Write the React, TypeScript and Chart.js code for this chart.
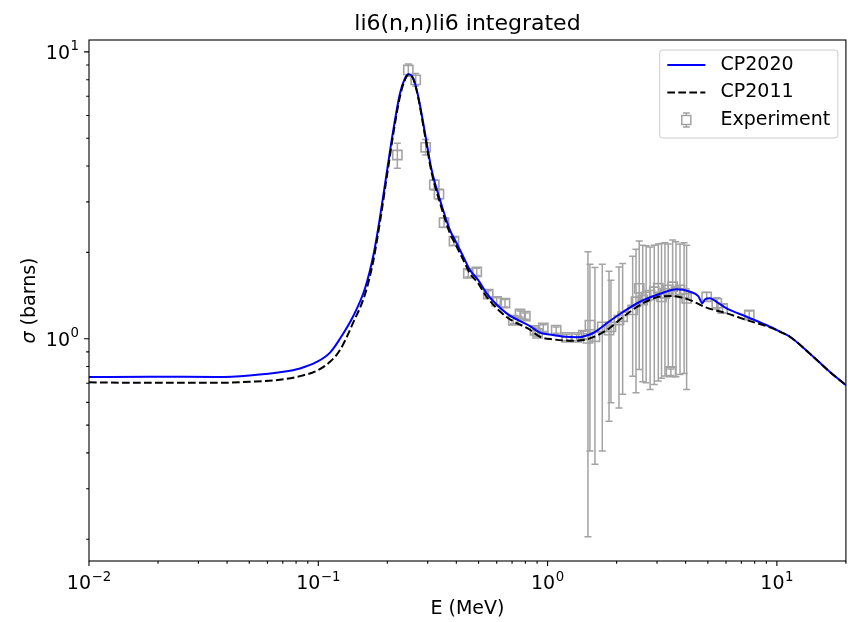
import React, { useEffect, useRef } from "react";
import { Chart, registerables } from "chart.js";

Chart.register(...registerables);

// ---------------- data ----------------
const cp2020E = [
  0.01, 0.0185, 0.0361, 0.0502, 0.0704, 0.0832, 0.0984, 0.1125, 0.1243, 0.1421,
  0.1599, 0.1738, 0.186, 0.1987, 0.2124, 0.2272, 0.2389, 0.247, 0.2596, 0.273,
  0.292, 0.312, 0.3393, 0.3752, 0.3946, 0.4291, 0.4586, 0.4985, 0.5425, 0.663,
  0.838, 0.926, 1.059, 1.2, 1.34, 1.53, 1.65, 1.81, 2.14, 2.53,
  2.99, 3.66, 4.18, 4.54, 4.73, 4.85, 5.1, 5.5, 6.04, 7.38,
  9.33, 10.4, 11.4, 13.9, 17.0, 20.0,
];
const cp2020Sigma = [
  0.736, 0.737, 0.736, 0.745, 0.767, 0.788, 0.83, 0.895, 1.0, 1.2,
  1.5, 1.95, 2.665, 3.775, 5.345, 7.18, 8.09, 8.36, 8.09, 6.98,
  5.21, 3.88, 3.05, 2.39, 2.21, 1.932, 1.736, 1.602, 1.44, 1.226,
  1.107, 1.05, 1.03, 1.016, 1.012, 1.035, 1.07, 1.132, 1.242, 1.346,
  1.42, 1.487, 1.459, 1.409, 1.33, 1.37, 1.383, 1.34, 1.276, 1.193,
  1.101, 1.055, 1.016, 0.889, 0.767, 0.689,
];

const cp2011E = [
  0.01, 0.0185, 0.0361, 0.0502, 0.0704, 0.0832, 0.0984, 0.1125, 0.1243, 0.1421,
  0.1599, 0.1738, 0.186, 0.1987, 0.2124, 0.2272, 0.2389, 0.247, 0.2596, 0.273,
  0.292, 0.312, 0.3393, 0.3752, 0.3946, 0.4291, 0.4586, 0.4985, 0.5425, 0.663,
  0.838, 0.926, 1.059, 1.295, 1.53, 1.81, 2.14, 2.53, 2.99, 3.5,
  4.18, 4.9, 6.04, 7.38, 9.33, 10.4, 11.4, 13.9, 17.0, 20.0,
];
const cp2011Sigma = [
  0.705, 0.702, 0.702, 0.708, 0.722, 0.741, 0.773, 0.831, 0.913, 1.14,
  1.43, 1.87, 2.57, 3.64, 5.18, 7.0, 8.0, 8.33, 8.05, 6.9,
  5.1, 3.8, 2.98, 2.33, 2.15, 1.88, 1.69, 1.56, 1.4, 1.19,
  1.075, 1.016, 0.995, 0.984, 1.003, 1.072, 1.193, 1.311, 1.394, 1.409,
  1.364, 1.287, 1.226, 1.162, 1.096, 1.055, 1.016, 0.889, 0.767, 0.689,
];

const expE = [
  0.2212, 0.247, 0.266, 0.294, 0.3206, 0.336, 0.3535, 0.3907, 0.451, 0.491,
  0.551, 0.6, 0.652, 0.7087, 0.758, 0.8, 0.881, 0.905, 0.958, 1.09,
  1.211, 1.34, 1.431, 1.5, 1.53, 1.609, 1.732, 1.853, 1.89, 2.048,
  2.125, 2.35, 2.43, 2.51, 2.6, 2.69, 2.8, 2.92, 3.04, 3.14,
  3.25, 3.36, 3.45, 3.51, 3.63, 3.78, 3.94, 4.04, 4.94, 5.47,
  5.8, 7.58,
];
const expSigma = [
  4.37, 8.65, 7.99, 4.65, 3.44, 3.19, 2.54, 2.19, 1.69, 1.71,
  1.43, 1.35, 1.33, 1.16, 1.22, 1.2, 1.07, 1.044, 1.09, 1.072,
  1.011, 1.011, 1.03, 1.003, 1.116, 1.016, 1.1, 1.072, 1.1, 1.162,
  1.193, 1.26, 1.346, 1.499, 1.365, 1.4, 1.42, 1.459, 1.5, 1.4,
  1.44, 1.48, 0.765, 1.518, 1.459, 1.48, 1.44, 1.383, 1.4, 1.33,
  1.276, 1.21,
];
const expLow = [
  3.93, 8.22, 7.6, 4.37, 3.3, 3.06, 2.44, 2.12, 1.64, 1.66,
  1.39, 1.31, 1.29, 1.13, 1.19, 1.17, 1.04, 1.02, 1.06, 1.045,
  0.985, 0.985, 1.0, 0.204, 0.406, 0.365, 0.406, 0.516, 0.598, 0.574,
  0.64, 0.74, 0.648, 0.782, 0.708, 0.702, 0.666, 0.693, 0.712, 0.728,
  0.741, 0.799, 0.745, 0.799, 0.737, 0.751, 0.757, 0.666, 1.35, 1.27,
  1.23, 1.17,
];
const expHigh = [
  4.8, 9.08, 8.4, 4.95, 3.58, 3.32, 2.64, 2.26, 1.74, 1.76,
  1.47, 1.39, 1.37, 1.19, 1.25, 1.23, 1.1, 1.07, 1.12, 1.1,
  1.037, 1.037, 1.06, 2.01, 1.82, 1.77, 1.82, 1.72, 1.6, 1.78,
  1.83, 1.94, 2.05, 2.19, 2.12, 2.11, 2.09, 2.12, 2.14, 2.15,
  2.16, 2.14, 0.785, 2.21, 2.18, 2.14, 2.16, 2.12, 1.45, 1.39,
  1.32, 1.25,
];

const xRange = [0.01, 20];
const yRange = [0.168, 11.0];
const xMajorTicks = [0.01, 0.1, 1, 10];
const xTickExponents = ["\u22122", "\u22121", "0", "1"];
const yMajorTicks = [1, 10];
const yTickExponents = ["0", "1"];
const tickBase = "10";
const minorMultipliers = [2, 3, 4, 5, 6, 7, 8, 9];

const titleText = "li6(n,n)li6 integrated";
const xLabelText = "E (MeV)";
const yLabelSymbol = "\u03C3";
const yLabelRest = " (barns)";
const legendLabels = ["CP2020", "CP2011", "Experiment"];

// ---------------- style ----------------
const FONT = '"DejaVu Sans", sans-serif';
const FS = 19;
const EXP_FS = 13.3;
const SUP_SHIFT = 8.5;
const TITLE_FS = 22;
const BLUE = "#0000ff";
const BLACK = "#000000";
const GRAY = "#a3a3a3";
const DASH = [7.7, 3.3];
const CAP = 3.5;

function buildTicks(min: number, max: number, majors: number[]) {
  const out: number[] = [];
  const decades = [majors[0] / 10, ...majors];
  decades.forEach((m, di) => {
    if (di > 0 && m >= min * 0.999999 && m <= max * 1.000001) out.push(m);
    minorMultipliers.forEach((k) => {
      const v = parseFloat((k * m).toPrecision(6));
      if (v >= min * 0.999999 && v <= max * 1.000001) out.push(v);
    });
  });
  return out.sort((a, b) => a - b);
}

function majorIndex(v: number, majors: number[]) {
  return majors.findIndex((m) => Math.abs(m - v) / m < 1e-6);
}

const xTickValues = buildTicks(xRange[0], xRange[1], xMajorTicks);
const yTickValues = buildTicks(yRange[0], yRange[1], yMajorTicks);

function drawPow(ctx: CanvasRenderingContext2D, exp: string, x: number, baseline: number, align: string) {
  ctx.font = `${FS}px ${FONT}`;
  const wb = ctx.measureText(tickBase).width;
  ctx.font = `${EXP_FS}px ${FONT}`;
  const we = ctx.measureText(exp).width;
  const total = wb + we + 0.5;
  const x0 = align === "center" ? x - total / 2 : x - total;
  ctx.textAlign = "left";
  ctx.textBaseline = "alphabetic";
  ctx.font = `${FS}px ${FONT}`;
  ctx.fillText(tickBase, x0, baseline);
  ctx.font = `${EXP_FS}px ${FONT}`;
  ctx.fillText(exp, x0 + wb + 0.5, baseline - SUP_SHIFT);
}

const decorPlugin = {
  id: "decor",
  beforeDatasetsDraw(chart: any) {
    const { ctx, chartArea: a } = chart;
    const xs = chart.scales.x;
    const ys = chart.scales.y;
    ctx.save();
    ctx.beginPath();
    ctx.rect(a.left, a.top, a.right - a.left, a.bottom - a.top);
    ctx.clip();
    ctx.strokeStyle = GRAY;
    ctx.lineWidth = 1.5;
    for (let i = 0; i < expE.length; i++) {
      const px = xs.getPixelForValue(expE[i]);
      const y1 = ys.getPixelForValue(expLow[i]);
      const y2 = ys.getPixelForValue(expHigh[i]);
      ctx.beginPath();
      ctx.moveTo(px, y1);
      ctx.lineTo(px, y2);
      ctx.moveTo(px - CAP, y1);
      ctx.lineTo(px + CAP, y1);
      ctx.moveTo(px - CAP, y2);
      ctx.lineTo(px + CAP, y2);
      ctx.stroke();
    }
    ctx.restore();
  },
  afterDraw(chart: any) {
    const { ctx, chartArea: a } = chart;
    const xs = chart.scales.x;
    const ys = chart.scales.y;
    ctx.save();
    // frame
    ctx.strokeStyle = BLACK;
    ctx.lineWidth = 1.1;
    ctx.strokeRect(a.left, a.top, a.right - a.left, a.bottom - a.top);
    // tick marks
    ctx.beginPath();
    xs.ticks.forEach((t: any) => {
      const px = xs.getPixelForValue(t.value);
      const len = majorIndex(t.value, xMajorTicks) >= 0 ? 4.9 : 2.8;
      ctx.moveTo(px, a.bottom);
      ctx.lineTo(px, a.bottom + len);
    });
    ys.ticks.forEach((t: any) => {
      const py = ys.getPixelForValue(t.value);
      const len = majorIndex(t.value, yMajorTicks) >= 0 ? 4.9 : 2.8;
      ctx.moveTo(a.left, py);
      ctx.lineTo(a.left - len, py);
    });
    ctx.stroke();

    // tick labels
    ctx.fillStyle = BLACK;
    xMajorTicks.forEach((v, i) => {
      drawPow(ctx, xTickExponents[i], xs.getPixelForValue(v), a.bottom + 28, "center");
    });
    yMajorTicks.forEach((v, i) => {
      drawPow(ctx, yTickExponents[i], a.left - 10, ys.getPixelForValue(v) + 7, "right");
    });

    // title
    ctx.font = `${TITLE_FS}px ${FONT}`;
    ctx.textAlign = "center";
    ctx.textBaseline = "alphabetic";
    ctx.fillText(titleText, (a.left + a.right) / 2, a.top - 10);

    // x label
    ctx.font = `${FS}px ${FONT}`;
    ctx.fillText(xLabelText, (a.left + a.right) / 2, 614);

    // y label (rotated)
    ctx.save();
    ctx.translate(30, (a.top + a.bottom) / 2);
    ctx.rotate(-Math.PI / 2);
    ctx.textBaseline = "middle";
    ctx.textAlign = "left";
    ctx.font = `italic ${FS}px ${FONT}`;
    const w1 = ctx.measureText(yLabelSymbol).width;
    ctx.font = `${FS}px ${FONT}`;
    const w2 = ctx.measureText(yLabelRest).width;
    const start = -(w1 + w2) / 2;
    ctx.font = `italic ${FS}px ${FONT}`;
    ctx.fillText(yLabelSymbol, start, 0);
    ctx.font = `${FS}px ${FONT}`;
    ctx.fillText(yLabelRest, start + w1, 0);
    ctx.restore();

    // legend
    ctx.font = `${FS}px ${FONT}`;
    const pad = 0.4 * FS;
    const handle = 2.0 * FS;
    const textPad = 0.8 * FS;
    const maxW = Math.max(...legendLabels.map((l) => ctx.measureText(l).width));
    const boxW = pad + handle + textPad + maxW + pad;
    const boxH = 88;
    const bx = a.right - 8 - boxW;
    const by = a.top + 10;
    ctx.beginPath();
    if ((ctx as any).roundRect) (ctx as any).roundRect(bx, by, boxW, boxH, 3);
    else ctx.rect(bx, by, boxW, boxH);
    ctx.fillStyle = "rgba(255,255,255,0.8)";
    ctx.fill();
    ctx.strokeStyle = "#cccccc";
    ctx.lineWidth = 1;
    ctx.stroke();

    const rows = [by + 15, by + 42.5, by + 70];
    const hx0 = bx + pad;
    const hx1 = hx0 + handle;
    ctx.beginPath();
    ctx.strokeStyle = BLUE;
    ctx.lineWidth = 2;
    ctx.moveTo(hx0, rows[0]);
    ctx.lineTo(hx1, rows[0]);
    ctx.stroke();
    ctx.beginPath();
    ctx.strokeStyle = BLACK;
    ctx.setLineDash(DASH);
    ctx.moveTo(hx0, rows[1]);
    ctx.lineTo(hx1, rows[1]);
    ctx.stroke();
    ctx.setLineDash([]);
    const mx = (hx0 + hx1) / 2;
    const my = rows[2];
    ctx.strokeStyle = GRAY;
    ctx.lineWidth = 1.5;
    ctx.beginPath();
    ctx.moveTo(mx, my - 7);
    ctx.lineTo(mx, my + 7);
    ctx.moveTo(mx - CAP, my - 7);
    ctx.lineTo(mx + CAP, my - 7);
    ctx.moveTo(mx - CAP, my + 7);
    ctx.lineTo(mx + CAP, my + 7);
    ctx.stroke();
    ctx.fillStyle = "#ffffff";
    ctx.fillRect(mx - 4.5, my - 4.5, 9, 9);
    ctx.strokeRect(mx - 4.5, my - 4.5, 9, 9);

    ctx.fillStyle = BLACK;
    ctx.textAlign = "left";
    ctx.textBaseline = "middle";
    legendLabels.forEach((l, i) => ctx.fillText(l, hx1 + textPad, rows[i]));
    ctx.restore();
  },
};

export default function App() {
  const canvasRef = useRef<HTMLCanvasElement | null>(null);

  useEffect(() => {
    document.body.style.margin = "0";
    const canvas = canvasRef.current;
    if (!canvas) return;
    const chart = new Chart(canvas, {
      type: "line",
      data: {
        datasets: [
          {
            label: legendLabels[1],
            data: cp2011E.map((e, i) => ({ x: e, y: cp2011Sigma[i] })),
            borderColor: BLACK,
            borderWidth: 2,
            borderDash: DASH,
            pointRadius: 0,
            fill: false,
            cubicInterpolationMode: "monotone",
          },
          {
            label: legendLabels[0],
            data: cp2020E.map((e, i) => ({ x: e, y: cp2020Sigma[i] })),
            borderColor: BLUE,
            borderWidth: 2,
            pointRadius: 0,
            fill: false,
            cubicInterpolationMode: "monotone",
          },
          {
            label: legendLabels[2],
            data: expE.map((e, i) => ({ x: e, y: expSigma[i] })),
            showLine: false,
            pointStyle: "rect",
            pointRadius: 6.5,
            pointBorderWidth: 1.6,
            pointBorderColor: GRAY,
            pointBackgroundColor: "rgba(0,0,0,0)",
            borderColor: GRAY,
            backgroundColor: "rgba(0,0,0,0)",
          },
        ],
      } as any,
      options: {
        animation: false,
        responsive: false,
        devicePixelRatio: 1,
        layout: { padding: { top: 40, right: 8, left: 0, bottom: 0 } },
        plugins: {
          legend: { display: false },
          tooltip: { enabled: false },
          title: { display: false },
        },
        scales: {
          x: {
            type: "logarithmic",
            position: "bottom",
            min: xRange[0],
            max: xRange[1],
            bounds: "data",
            afterBuildTicks: (s: any) => {
              s.ticks = xTickValues.map((v) => ({ value: v }));
            },
            afterFit: (s: any) => {
              s.height = 61;
            },
            ticks: { display: false, autoSkip: false, maxRotation: 0, minRotation: 0 },
            grid: { display: false, drawTicks: false },
            border: { display: false },
          },
          y: {
            type: "logarithmic",
            position: "left",
            min: yRange[0],
            max: yRange[1],
            bounds: "data",
            afterBuildTicks: (s: any) => {
              s.ticks = yTickValues.map((v) => ({ value: v }));
            },
            afterFit: (s: any) => {
              s.width = 89;
            },
            ticks: { display: false, autoSkip: false },
            grid: { display: false, drawTicks: false },
            border: { display: false },
          },
        },
      } as any,
      plugins: [decorPlugin],
    });
    return () => chart.destroy();
  }, []);

  return (
    <div style={{ width: 854, height: 622, position: "relative", background: "#fff" }}>
      <canvas ref={canvasRef} width={854} height={622} style={{ display: "block" }} />
    </div>
  );
}
